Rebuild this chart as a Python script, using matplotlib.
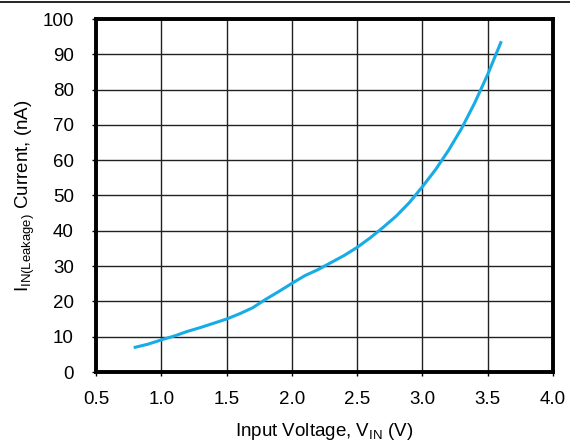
import matplotlib
matplotlib.use('Agg')
import matplotlib.pyplot as plt
from matplotlib.lines import Line2D

# input voltage (V) and leakage current (nA)
v_in = [0.8, 0.9, 1.0, 1.1, 1.2, 1.3, 1.4, 1.5, 1.6, 1.7, 1.8, 1.9, 2.0, 2.1, 2.2,
        2.3, 2.4, 2.5, 2.6, 2.7, 2.8, 2.9, 3.0, 3.1, 3.2, 3.3, 3.4, 3.5, 3.6]
i_leak = [7.0, 7.9, 9.1, 10.2, 11.5, 12.6, 13.8, 15.0, 16.5, 18.2, 20.6, 22.8, 25.1,
          27.3, 29.0, 31.0, 33.0, 35.3, 38.0, 41.0, 44.2, 48.0, 52.5, 57.3, 62.8,
          69.0, 76.2, 84.3, 93.3]

x_ticks = [0.5, 1.0, 1.5, 2.0, 2.5, 3.0, 3.5, 4.0]
y_ticks = [0, 10, 20, 30, 40, 50, 60, 70, 80, 90, 100]

plt.rcParams['font.family'] = ['Liberation Sans', 'DejaVu Sans']
plt.rcParams['mathtext.fontset'] = 'custom'
plt.rcParams['mathtext.rm'] = 'Liberation Sans'
plt.rcParams['mathtext.it'] = 'Liberation Sans'

fig = plt.figure(figsize=(5.70, 4.44), dpi=100)
ax = fig.add_axes([96 / 570, 1 - 372 / 444, (553 - 96) / 570, (372 - 19) / 444])

ax.plot(v_in, i_leak, color='#18ACE6', lw=2.2, zorder=3)

ax.set_xlim(0.5, 4.0)
ax.set_ylim(0, 100)
ax.set_xticks(x_ticks)
ax.set_xticklabels(['%.1f' % t for t in x_ticks])
ax.set_yticks(y_ticks)
ax.grid(True, color='#222222', lw=1.0)
ax.set_axisbelow(True)

for sp in ax.spines.values():
    sp.set_linewidth(2.8)
    sp.set_color('black')

ax.tick_params(direction='out', length=3, width=1, labelsize=13.5)
ax.tick_params(axis='x', pad=11)
ax.tick_params(axis='y', pad=13)

ax.set_xlabel(r'Input Voltage, V$_{\mathrm{IN}}$ (V)', fontsize=13.5, labelpad=9)
ax.set_ylabel(r'I$_{\mathrm{IN(Leakage)}}$ Current, (nA)', fontsize=13.5, labelpad=4)

# rule across the top of the page
fig.add_artist(Line2D([0, 1], [1 - 2 / 444, 1 - 2 / 444], transform=fig.transFigure,
                      color='black', lw=1.2))

fig.savefig('out.png', dpi=100)
